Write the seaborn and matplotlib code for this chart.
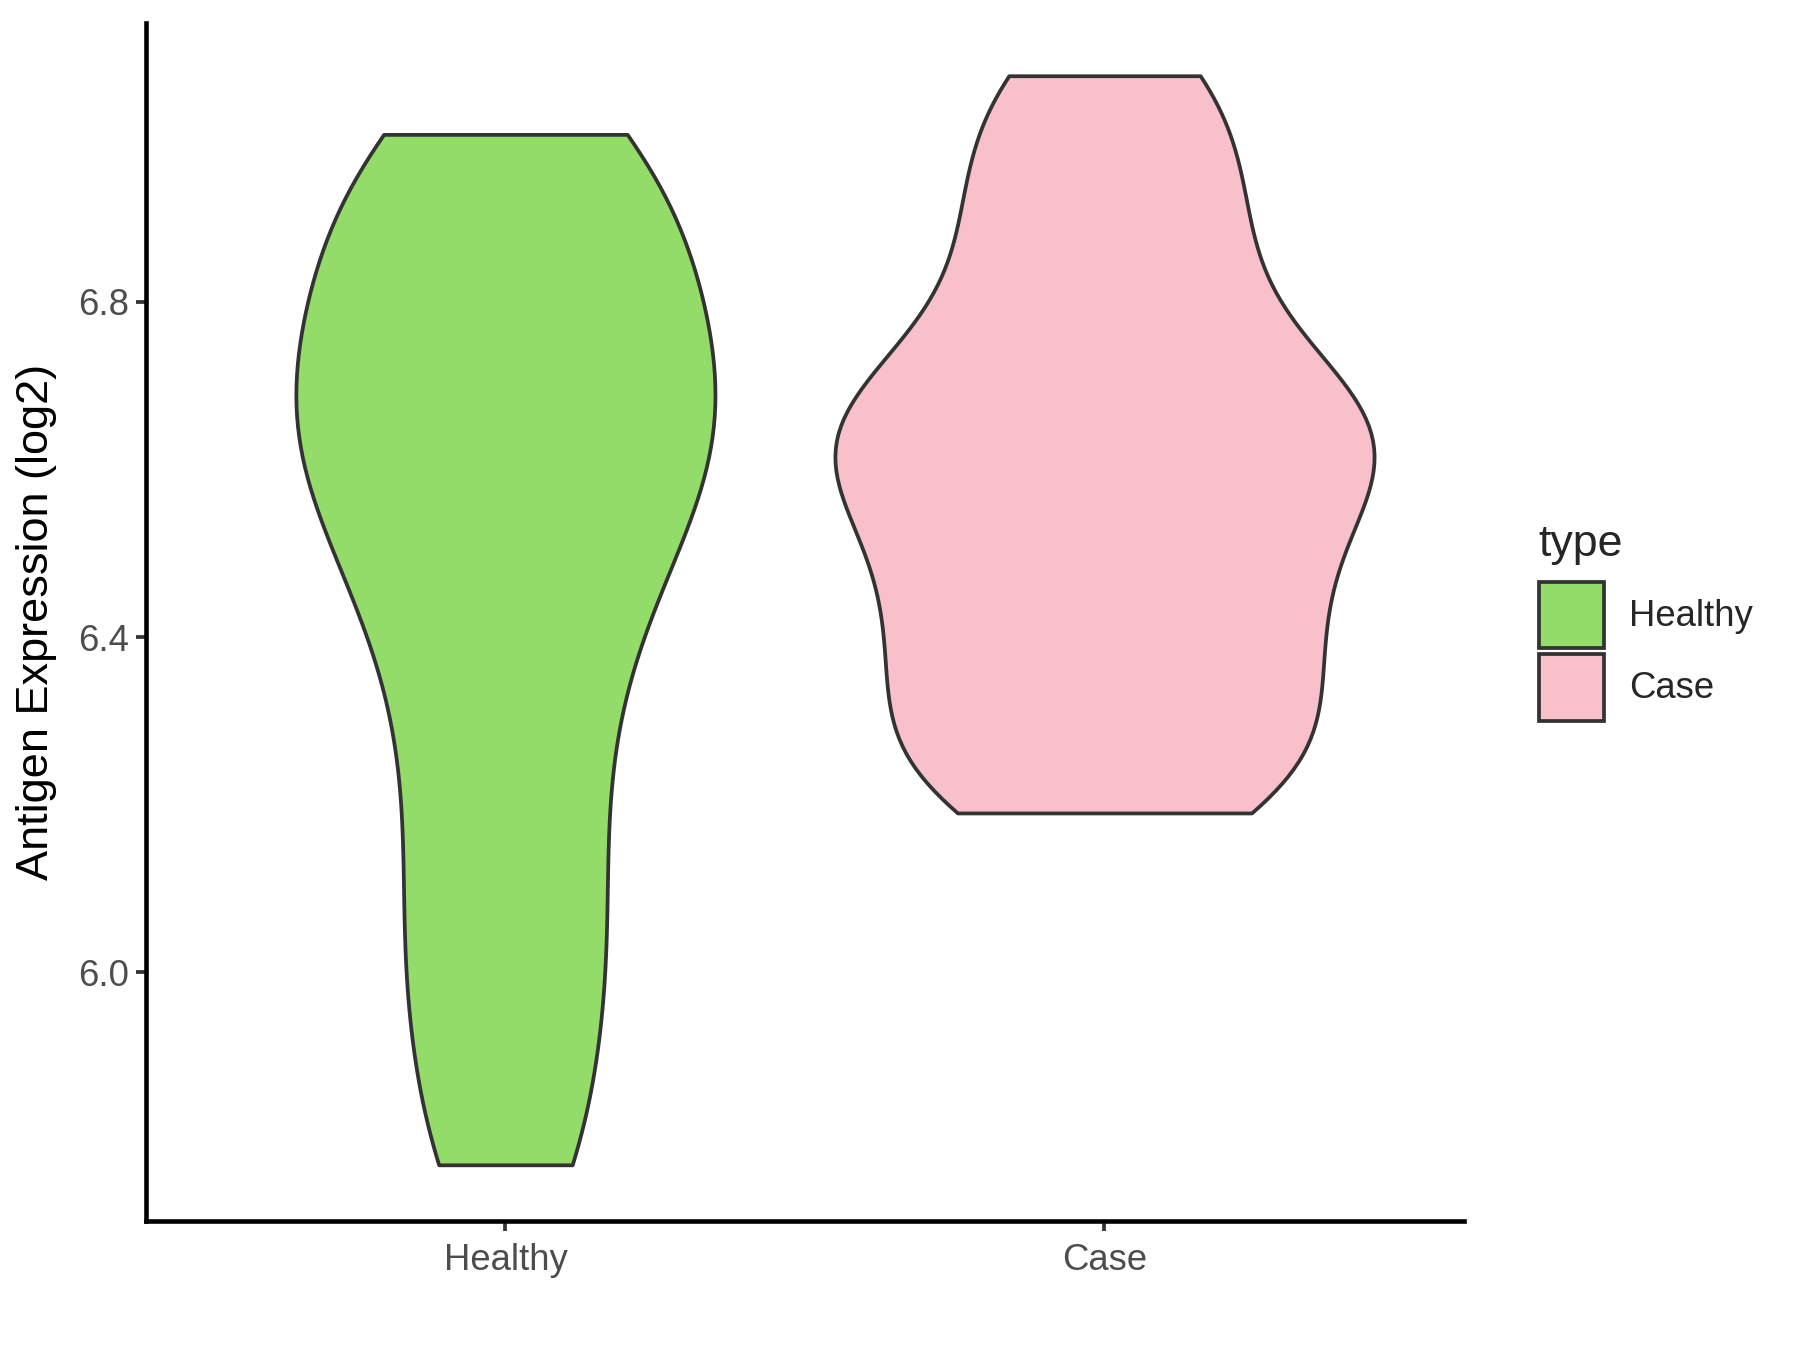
import numpy as np
import pandas as pd
import matplotlib
matplotlib.use("Agg")
import matplotlib.pyplot as plt
import matplotlib.patches as mpatches
import seaborn as sns

# Values (log2 antigen expression per sample)
healthy_vals = [5.77, 5.93, 6.06, 6.20, 6.34, 6.45, 6.54, 6.60, 6.66,
                6.72, 6.78, 6.86, 6.94, 7.00]
case_vals = [6.19, 6.24, 6.30, 6.36, 6.42, 6.48, 6.54, 6.59, 6.63,
             6.67, 6.71, 6.79, 6.88, 6.97, 7.07]
groups = ["Healthy", "Case"]
colors = {"Healthy": "#93DC6A", "Case": "#F7C0CB"}
y_ticks = [6.0, 6.4, 6.8]

df = pd.DataFrame({
    "type": ["Healthy"] * len(healthy_vals) + ["Case"] * len(case_vals),
    "value": healthy_vals + case_vals,
})

sns.set_theme(style="white")
plt.rcParams["font.family"] = ["Liberation Sans", "DejaVu Sans"]

fig = plt.figure(figsize=(12, 9), dpi=150)
ax = fig.add_axes([0.0811, 0.0956, 0.7322, 0.8874])

sns.violinplot(data=df, x="type", y="value", hue="type", order=groups,
               hue_order=groups, palette=colors, saturation=1, cut=0,
               inner=None, density_norm="area", common_norm=True, width=0.9,
               bw_method=0.34, linecolor="#333333", linewidth=1.8,
               legend=False, ax=ax)

ax.set_xlim(-0.6, 1.6)
ax.set_ylim(5.703, 7.133)
ax.set_yticks(y_ticks)
ax.set_yticklabels([f"{v:.1f}" for v in y_ticks])
ax.set_xlabel("")
ax.set_ylabel("Antigen Expression (log2)", fontsize=21.7, color="black", labelpad=10)

for side in ["top", "right"]:
    ax.spines[side].set_visible(False)
for side in ["left", "bottom"]:
    ax.spines[side].set_color("black")
    ax.spines[side].set_linewidth(2.2)
ax.tick_params(axis="both", length=4.8, width=1.8, color="#333333",
               labelcolor="#4D4D4D", labelsize=17.5, left=True, bottom=True)
ax.tick_params(axis="x", pad=6)
ax.grid(False)

handles = [mpatches.Patch(facecolor=colors[g], edgecolor="#333333",
                          linewidth=1.8, label=g) for g in groups]
leg = fig.legend(handles=handles, title="type", loc="center left",
                 bbox_to_anchor=(0.8467, 0.539), frameon=False, fontsize=17.5,
                 title_fontsize=21.5, handlelength=1.8, handleheight=2.44,
                 labelspacing=0.15, handletextpad=0.69, alignment="left",
                 borderaxespad=0)
leg._legend_box.sep = 8  # extra room between title and keys

fig.savefig("out.png", dpi=150)
